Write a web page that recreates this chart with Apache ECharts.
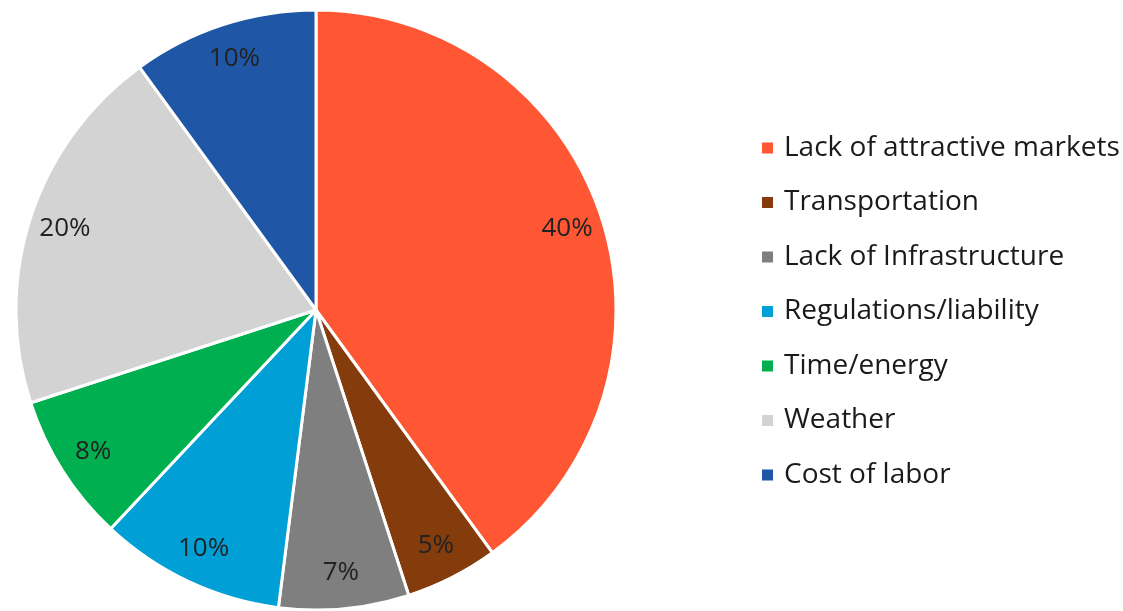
<!DOCTYPE html>
<html>
<head>
<meta charset="utf-8">
<script src="https://cdn.jsdelivr.net/npm/echarts@6/dist/echarts.min.js"></script>
<style>
  html, body { margin: 0; padding: 0; background: #fff; }
  #chart { width: 1123px; height: 611px; }
</style>
</head>
<body>
<div id="chart"></div>
<script>
const categories = [
  'Lack of attractive markets',
  'Transportation',
  'Lack of Infrastructure',
  'Regulations/liability',
  'Time/energy',
  'Weather',
  'Cost of labor'
];
const shares = [40, 5, 7, 10, 8, 20, 10];
const colors = ['#FF5733', '#843C0C', '#7F7F7F', '#00A0D6', '#00B050', '#D3D3D3', '#1F57A6'];

const chart = echarts.init(document.getElementById('chart'));

const pieData = categories.map((name, i) => ({
  name,
  value: shares[i],
  itemStyle: { color: colors[i] }
}));

chart.setOption({
  animation: false,
  legend: {
    orient: 'vertical',
    left: 760,
    top: 133,
    padding: 0,
    icon: 'rect',
    itemWidth: 13,
    itemHeight: 13,
    itemGap: 24.5,
    textStyle: {
      fontFamily: 'Open Sans',
      fontSize: 28,
      color: '#1a1a1a',
      lineHeight: 30,
      padding: [0, 0, 0, 5]
    },
    data: categories
  },
  series: [
    {
      type: 'pie',
      center: [316, 310],
      radius: [0, 300],
      startAngle: 90,
      clockwise: true,
      itemStyle: { borderColor: '#fff', borderWidth: 3 },
      label: { show: false },
      labelLine: { show: false },
      emphasis: { disabled: true },
      data: pieData
    },
    {
      // label ring only, sits near the outer edge
      type: 'pie',
      center: [316, 310],
      radius: [222, 300],
      startAngle: 90,
      clockwise: true,
      silent: true,
      legendHoverLink: false,
      itemStyle: { color: 'transparent', borderWidth: 0 },
      label: {
        show: true,
        position: 'inside',
        formatter: '{c}%',
        fontFamily: 'Open Sans',
        fontSize: 26,
        color: '#222'
      },
      labelLine: { show: false },
      emphasis: { disabled: true },
      data: categories.map((name, i) => ({ name, value: shares[i] }))
    }
  ]
});
</script>
</body>
</html>
